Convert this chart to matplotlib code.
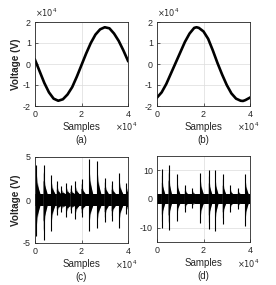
import matplotlib
matplotlib.use("Agg")
import matplotlib.pyplot as plt
import numpy as np

plt.rcParams['font.family'] = ['Liberation Sans', 'DejaVu Sans']

# ---- data (samples) ----
xa = [0, 2000, 4000, 6000, 8000, 10000, 12000, 14000, 16000, 18000, 20000,
      22000, 24000, 26000, 28000, 30000, 32000, 34000, 36000, 38000, 40000]
ya = [2000, -3500, -9000, -13500, -16500, -17500, -16800, -14500, -11000, -6000, -500,
      5000, 10000, 14000, 16500, 17500, 17000, 14500, 11000, 6500, 1500]

xb = [0, 2000, 4000, 6000, 8000, 10000, 12000, 14000, 16000, 17000, 18000, 20000,
      22000, 24000, 26000, 28000, 30000, 32000, 34000, 36000, 37000, 38000, 40000]
yb = [-16000, -13500, -9500, -4500, 500, 5500, 10500, 14500, 17200, 17500, 17200, 15500,
      12000, 6500, 500, -5000, -10000, -14000, -16500, -17500, -17600, -17200, -16000]

c_band = 0.75
c_spike_pos = [600, 3700, 7000, 9400, 11300, 13400, 15300, 17300, 20000, 23300, 26800, 30000, 33000, 36200, 39200]
c_spike_hi = [4.1, 4.1, 2.9, 2.2, 1.6, 2.0, 1.7, 2.2, 2.4, 4.8, 4.5, 2.6, 2.2, 3.1, 2.0]
c_spike_lo = [-4.2, -4.6, -3.6, -1.8, -1.4, -2.0, -1.5, -2.2, -2.0, -3.6, -3.3, -2.6, -2.4, -3.3, -1.6]

d_band = 1.6
d_spike_pos = [2100, 5000, 8600, 12000, 15200, 18700, 22300, 25000, 28300, 31400, 34800, 38000]
d_spike_hi = [10.3, 12.0, 8.8, 5.0, 3.9, 9.0, 10.0, 10.0, 8.6, 5.0, 4.0, 8.8]
d_spike_lo = [-10.0, -10.8, -7.5, -4.4, -3.0, -8.3, -10.5, -11.0, -8.6, -4.4, -3.5, -9.5]

xticks = [0, 20000, 40000]
xtick_labels = ['0', '2', '4']

W, H = 276, 285
fig = plt.figure(figsize=(W / 100, H / 100), dpi=100)

def ax_px(l, t, r, b):
    return fig.add_axes([l / W, 1 - b / H, (r - l) / W, (b - t) / H])

FS = 6.4
TXT = '#262626'
def style(ax, ylim, yticks, caption, ylabel=True, yexp=False):
    ax.set_xlim(0, 40000)
    ax.set_ylim(*ylim)
    ax.set_xticks(xticks)
    ax.set_xticklabels(xtick_labels)
    ax.set_yticks(yticks)
    ax.set_yticklabels([str(v) for v in yticks])
    ax.tick_params(direction='in', length=2, width=0.5, labelsize=FS, colors=TXT, pad=3)
    ax.grid(True, color='#dcdcdc', lw=0.5)
    ax.set_axisbelow(True)
    for s in ax.spines.values():
        s.set_linewidth(0.6)
        s.set_color(TXT)
    ax.set_xlabel('Samples', fontsize=FS + 0.6, labelpad=2, color=TXT)
    if ylabel:
        ax.set_ylabel('Voltage (V)', fontsize=FS + 0.8, fontweight='bold', labelpad=1, color=TXT)
    ax.text(0.98, -0.25, r'$\times10^4$', transform=ax.transAxes, fontsize=FS - 0.5,
            ha='center', va='center', color=TXT)
    if yexp:
        ax.text(0.0, 1.04, r'$\times10^4$', transform=ax.transAxes, fontsize=FS - 0.5,
                ha='left', va='bottom', color=TXT)
    ax.text(0.5, -0.40, caption, transform=ax.transAxes, fontsize=FS + 0.6,
            ha='center', va='center', color=TXT)

axa = ax_px(35, 22, 128, 106)
axa.plot(xa, np.array(ya) / 1e4, color='black', lw=1.9)
style(axa, (-2, 2), [-2, -1, 0, 1, 2], '(a)', yexp=True)

axb = ax_px(157, 22, 250, 106)
axb.plot(xb, np.array(yb) / 1e4, color='black', lw=1.9)
style(axb, (-2, 2), [-2, -1, 0, 1, 2], '(b)', ylabel=False, yexp=True)

def noisy(ax, band, pos, hi, lo, w):
    ax.fill_between([0, 40000], [-band, -band], [band, band], color='black', lw=0, zorder=2)
    for p, h, l in zip(pos, hi, lo):
        ax.fill([p, p + w * 0.8, p + w * 0.8, p], [h * 0.8, band, -band, l * 0.8],
                color='#808080', lw=0, zorder=3)
        ax.fill([p, p + w, p + w, p], [h * 0.55, band, -band, l * 0.55],
                color='black', lw=0, zorder=3)
        ax.vlines(p, l, h, color='black', lw=0.8, zorder=4)

axc = ax_px(35, 157, 128, 243)
noisy(axc, c_band, c_spike_pos, c_spike_hi, c_spike_lo, 1700)
style(axc, (-5, 5), [-5, 0, 5], '(c)')

axd = ax_px(157, 156, 250, 242)
noisy(axd, d_band, d_spike_pos, d_spike_hi, d_spike_lo, 1500)
style(axd, (-15, 15), [-10, 0, 10], '(d)', ylabel=False)

fig.savefig('out.png', dpi=100)
